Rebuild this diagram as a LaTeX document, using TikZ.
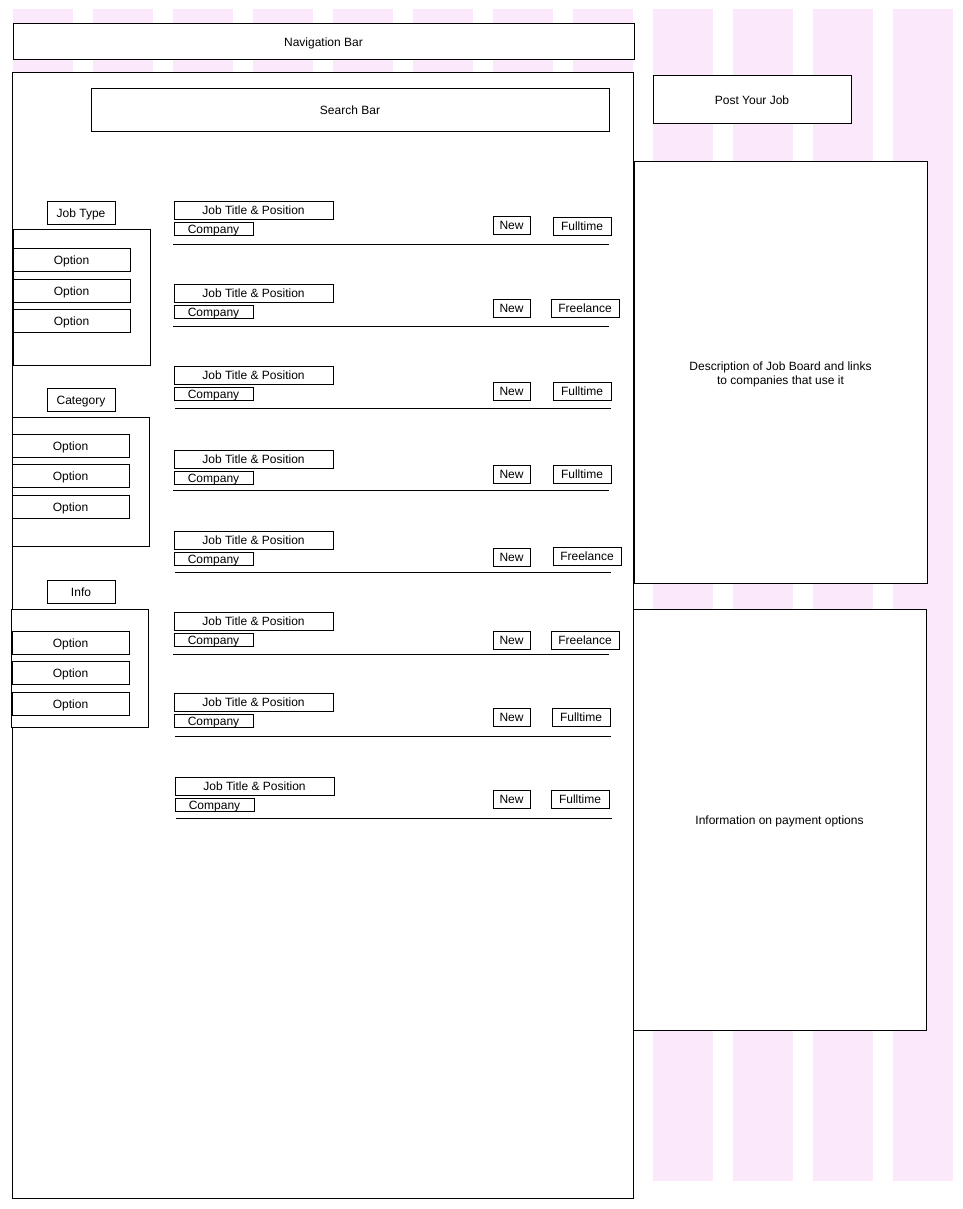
\documentclass[tikz,border=0pt]{standalone}
\usepackage{fontspec}
\setmainfont{Liberation Sans}
\definecolor{pinkcol}{RGB}{251,233,251}
\newcommand{\rbox}[7][box]{\node[#1,minimum width={(#5-#3)*1pt},minimum height={(#6-#4)*1pt}] (#2) at ({(#3+#5)/2},{(#4+#6)/2}) {#7};}
\begin{document}
\begin{tikzpicture}[x=1pt,y=-1pt,
  plainbox/.style={draw=black,fill=white,line width=1pt,inner sep=0pt,outer sep=0pt,font=\fontsize{12}{14}\selectfont,align=center},
  box/.style={plainbox,text height=9pt,text depth=0pt},
  sep/.style={draw=black,line width=1pt}]
\useasboundingbox (0,0) rectangle (962,1209);
\fill[white] (0,0) rectangle (962,1209);
% pink grid columns
\foreach \i in {0,...,11}
  \fill[pinkcol] ({13+80*\i},9) rectangle ({73+80*\i},1181);
% main frame
\rbox{main}{12}{73}{633}{1198}{}
\rbox{nav}{13}{24}{634}{60}{Navigation Bar}
\rbox{search}{91}{89}{609}{132}{Search Bar}
\rbox{post}{653}{76}{851}{124}{Post Your Job}
\rbox[plainbox,label={[align=center,font=\fontsize{12}{14}\selectfont,inner sep=0pt,yshift=-2pt]center:{Description of Job Board and links\\to companies that use it}}]{desc}{634}{162}{927}{583}{}
\rbox{pay}{633}{609}{926}{1030}{Information on payment options}
% left filters
\rbox{jtype}{47}{201}{115}{224}{Job Type}
\rbox{jtypebox}{13}{229}{150}{365}{}
\rbox{jo1}{13}{248}{130}{271}{Option}
\rbox{jo2}{13}{279}{130}{302}{Option}
\rbox{jo3}{13}{309}{130}{332}{Option}
\rbox{cat}{47}{388}{115}{411}{Category}
\rbox{catbox}{12}{417}{149}{546}{}
\rbox{co1}{12}{434}{129}{457}{Option}
\rbox{co2}{12}{464}{129}{487}{Option}
\rbox{co3}{12}{495}{129}{518}{Option}
\rbox{info}{47}{580}{115}{603}{Info}
\rbox{infobox}{11}{609}{148}{727}{}
\rbox{io1}{12}{631}{129}{654}{Option}
\rbox{io2}{12}{661}{129}{684}{Option}
\rbox{io3}{12}{692}{129}{715}{Option}
% listings
\rbox{t1}{174}{201}{333}{219}{Job Title \& Position}
\rbox{c1}{174}{222}{253}{235}{Company}
\rbox{n1}{493}{216}{530}{234}{New}
\rbox{k1}{553}{217}{611}{235}{Fulltime}
\draw[sep] (173,244) -- (609,244);
\rbox{t2}{174}{284}{333}{302}{Job Title \& Position}
\rbox{c2}{174}{305}{253}{318}{Company}
\rbox{n2}{493}{299}{530}{317}{New}
\rbox{k2}{551}{299}{619}{317}{Freelance}
\draw[sep] (173,326) -- (609,326);
\rbox{t3}{174}{366}{333}{384}{Job Title \& Position}
\rbox{c3}{174}{387}{253}{400}{Company}
\rbox{n3}{493}{382}{530}{400}{New}
\rbox{k3}{553}{382}{611}{400}{Fulltime}
\draw[sep] (175,408) -- (611,408);
\rbox{t4}{174}{450}{333}{468}{Job Title \& Position}
\rbox{c4}{174}{471}{253}{484}{Company}
\rbox{n4}{493}{465}{530}{483}{New}
\rbox{k4}{553}{465}{611}{483}{Fulltime}
\draw[sep] (173,490) -- (609,490);
\rbox{t5}{174}{531}{333}{549}{Job Title \& Position}
\rbox{c5}{174}{552}{253}{565}{Company}
\rbox{n5}{493}{548}{530}{566}{New}
\rbox{k5}{553}{547}{621}{565}{Freelance}
\draw[sep] (175,572) -- (611,572);
\rbox{t6}{174}{612}{333}{630}{Job Title \& Position}
\rbox{c6}{174}{633}{253}{646}{Company}
\rbox{n6}{493}{631}{530}{649}{New}
\rbox{k6}{551}{631}{619}{649}{Freelance}
\draw[sep] (173,654) -- (609,654);
\rbox{t7}{174}{693}{333}{711}{Job Title \& Position}
\rbox{c7}{174}{714}{253}{727}{Company}
\rbox{n7}{493}{708}{530}{726}{New}
\rbox{k7}{552}{708}{610}{726}{Fulltime}
\draw[sep] (175,736) -- (611,736);
\rbox{t8}{175}{777}{334}{795}{Job Title \& Position}
\rbox{c8}{175}{798}{254}{811}{Company}
\rbox{n8}{493}{790}{530}{808}{New}
\rbox{k8}{551}{790}{609}{808}{Fulltime}
\draw[sep] (176,818) -- (612,818);
\end{tikzpicture}
\end{document}
